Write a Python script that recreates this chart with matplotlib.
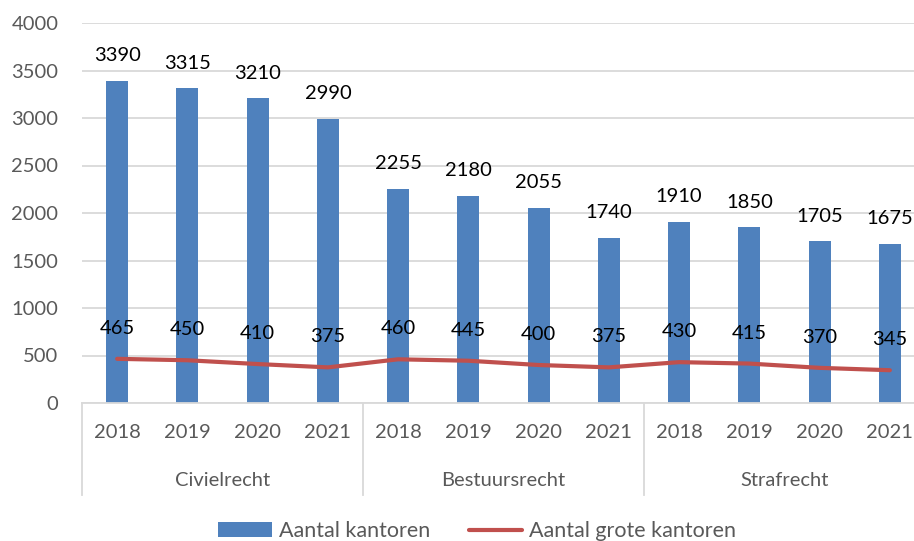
import matplotlib
matplotlib.use("Agg")
import matplotlib.pyplot as plt
from matplotlib.lines import Line2D
from matplotlib.patches import Patch
import matplotlib.transforms as mtransforms

groups = ["Civielrecht", "Bestuursrecht", "Strafrecht"]
years = ["2018", "2019", "2020", "2021"]
kantoren = [3390, 3315, 3210, 2990, 2255, 2180, 2055, 1740, 1910, 1850, 1705, 1675]
grote_kantoren = [465, 450, 410, 375, 460, 445, 400, 375, 430, 415, 370, 345]
yticks = [0, 500, 1000, 1500, 2000, 2500, 3000, 3500, 4000]

plt.rcParams['font.family'] = ['Lato', 'DejaVu Sans']
W, H = 914, 541
fig = plt.figure(figsize=(W / 100, H / 100), dpi=100)
ax = fig.add_axes([82 / W, (H - 403) / H, 843 / W, 380 / H])

blue = "#4F81BD"
red = "#C0504D"
grid = "#D9D9D9"
tick_c = "#595959"
fs = 14.5

labels = [y for g in groups for y in years]
x = list(range(len(labels)))
ax.bar(x, kantoren, width=0.31, color=blue, zorder=2)
ax.plot(x, grote_kantoren, color=red, lw=3, solid_capstyle='round', zorder=3)

for xi, v in zip(x, kantoren):
    ax.annotate(str(v), (xi, v), xytext=(0, 18), textcoords='offset points',
                ha='center', va='center', fontsize=fs, color='black')
for xi, v in zip(x, grote_kantoren):
    ax.annotate(str(v), (xi, v), xytext=(0, 22), textcoords='offset points',
                ha='center', va='center', fontsize=fs, color='black')

ax.set_xlim(-0.5, len(labels) - 0.5)
ax.set_ylim(0, 4000)
ax.set_yticks(yticks)
ax.set_xticks(x)
ax.set_xticklabels(labels)
ax.tick_params(axis='both', length=0, labelsize=fs, colors=tick_c)
ax.tick_params(axis='y', pad=17)
ax.tick_params(axis='x', pad=15)
ax.yaxis.grid(True, color=grid, lw=1.3, zorder=0)
ax.set_axisbelow(True)
for s in ['top', 'right', 'left']:
    ax.spines[s].set_visible(False)
ax.spines['bottom'].set_color(grid)
ax.spines['bottom'].set_linewidth(1.3)

trans = mtransforms.blended_transform_factory(ax.transData, ax.transAxes)
n = len(years)
for i in range(len(groups) + 1):
    xs = i * n - 0.5
    ax.plot([xs, xs], [0, -92 / 380], transform=trans, color=grid, lw=1.3, clip_on=False)
for i, g in enumerate(groups):
    ax.text(i * n + (n - 1) / 2, -77 / 380, g, transform=trans, ha='center', va='center',
            fontsize=fs, color=tick_c)

handles = [Patch(facecolor=blue, edgecolor='none'),
           Line2D([0], [0], color=red, lw=3, solid_capstyle='round')]
fig.legend(handles, ["Aantal kantoren", "Aantal grote kantoren"], loc='center',
           bbox_to_anchor=(0.522, 10 / H), ncol=2, frameon=False, fontsize=15.5,
           labelcolor=tick_c, handlelength=2.5, handleheight=0.65, handletextpad=0.3,
           columnspacing=1.8)

fig.savefig("out.png", dpi=100)
